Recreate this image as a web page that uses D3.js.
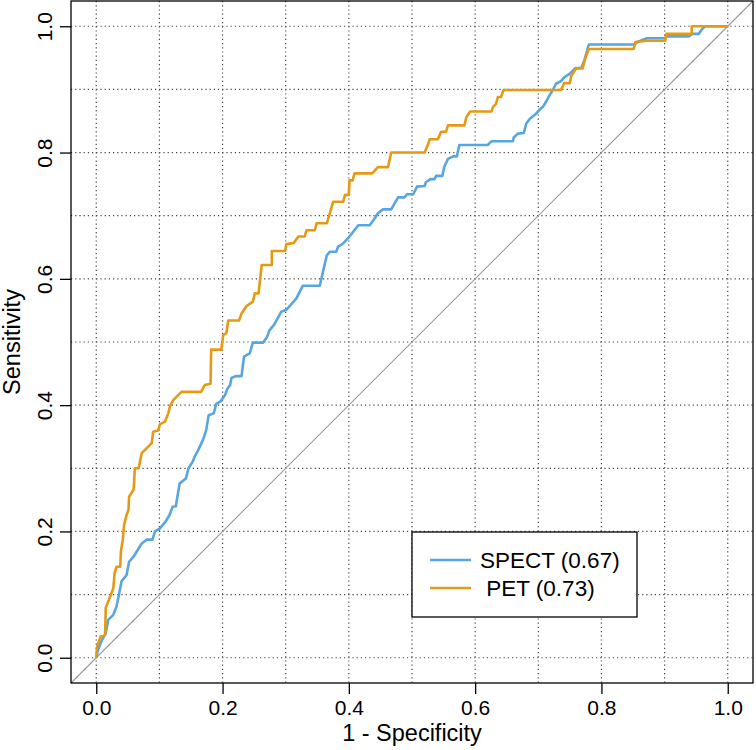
<!DOCTYPE html>
<html>
<head>
<meta charset="utf-8">
<script src="https://cdn.jsdelivr.net/npm/d3@7"></script>
<style>
  body { margin: 0; background: #fff; }
  text { font-family: "Liberation Sans", Arial, sans-serif; fill: #000; }
</style>
</head>
<body>
<svg class="chart"></svg>
<script>
// tick values and labels
let ticks = [0, 0.2, 0.4, 0.6, 0.8, 1.0]
let grid = [0, 0.1, 0.2, 0.3, 0.4, 0.5, 0.6, 0.7, 0.8, 0.9, 1.0]

let seriesNames = ['SPECT (0.67)', ' PET (0.73)']
let colorGroup = ['#58a6e0', '#e69a14']

// [1 - specificity, sensitivity]
let spect = [[0,0],[0.003,0.013],[0.009,0.028],[0.015,0.039],[0.019,0.060],[0.027,0.068],[0.032,0.081],[0.036,0.100],[0.040,0.121],[0.048,0.131],[0.052,0.152],[0.059,0.160],[0.072,0.181],[0.080,0.187],[0.089,0.187],[0.093,0.200],[0.101,0.205],[0.110,0.216],[0.116,0.226],[0.121,0.239],[0.126,0.240],[0.132,0.276],[0.142,0.284],[0.146,0.300],[0.153,0.311],[0.156,0.319],[0.161,0.328],[0.169,0.345],[0.174,0.360],[0.178,0.384],[0.186,0.387],[0.190,0.402],[0.197,0.406],[0.204,0.416],[0.207,0.425],[0.212,0.432],[0.214,0.443],[0.221,0.446],[0.230,0.446],[0.234,0.477],[0.243,0.482],[0.248,0.499],[0.264,0.499],[0.270,0.507],[0.274,0.518],[0.282,0.528],[0.293,0.548],[0.301,0.551],[0.317,0.569],[0.327,0.589],[0.354,0.589],[0.359,0.611],[0.365,0.637],[0.370,0.643],[0.380,0.643],[0.383,0.651],[0.391,0.656],[0.401,0.667],[0.415,0.685],[0.433,0.685],[0.441,0.696],[0.446,0.704],[0.454,0.710],[0.467,0.710],[0.478,0.729],[0.488,0.729],[0.492,0.734],[0.502,0.734],[0.508,0.746],[0.520,0.747],[0.522,0.753],[0.529,0.758],[0.536,0.758],[0.538,0.763],[0.548,0.763],[0.551,0.777],[0.557,0.790],[0.565,0.794],[0.571,0.794],[0.575,0.812],[0.620,0.812],[0.626,0.818],[0.660,0.818],[0.661,0.824],[0.668,0.830],[0.677,0.831],[0.681,0.846],[0.687,0.854],[0.696,0.861],[0.702,0.868],[0.707,0.872],[0.712,0.880],[0.718,0.891],[0.723,0.899],[0.728,0.909],[0.736,0.913],[0.741,0.919],[0.750,0.925],[0.759,0.934],[0.768,0.934],[0.773,0.946],[0.778,0.964],[0.780,0.971],[0.851,0.971],[0.857,0.975],[0.872,0.981],[0.901,0.981],[0.904,0.984],[0.938,0.984],[0.944,0.988],[0.954,0.988],[0.959,0.995],[0.964,1],[1,1]]

let pet = [[0,0],[0.001,0.016],[0.007,0.034],[0.014,0.036],[0.015,0.079],[0.022,0.097],[0.027,0.110],[0.029,0.134],[0.032,0.144],[0.038,0.144],[0.039,0.168],[0.042,0.187],[0.044,0.210],[0.048,0.226],[0.051,0.234],[0.052,0.255],[0.059,0.266],[0.060,0.279],[0.061,0.300],[0.067,0.300],[0.072,0.324],[0.080,0.332],[0.088,0.340],[0.090,0.358],[0.098,0.360],[0.101,0.370],[0.109,0.374],[0.114,0.387],[0.117,0.399],[0.122,0.408],[0.127,0.413],[0.135,0.421],[0.166,0.421],[0.172,0.432],[0.181,0.434],[0.182,0.488],[0.198,0.488],[0.201,0.511],[0.206,0.514],[0.209,0.534],[0.226,0.534],[0.230,0.545],[0.238,0.557],[0.248,0.564],[0.251,0.577],[0.257,0.577],[0.262,0.622],[0.278,0.622],[0.278,0.644],[0.299,0.644],[0.301,0.655],[0.313,0.657],[0.320,0.667],[0.330,0.667],[0.333,0.677],[0.346,0.677],[0.349,0.688],[0.365,0.688],[0.370,0.704],[0.375,0.722],[0.391,0.722],[0.394,0.733],[0.400,0.733],[0.401,0.756],[0.406,0.756],[0.409,0.767],[0.437,0.767],[0.446,0.777],[0.462,0.777],[0.467,0.800],[0.520,0.800],[0.525,0.812],[0.528,0.821],[0.541,0.821],[0.546,0.833],[0.554,0.833],[0.557,0.843],[0.583,0.843],[0.586,0.856],[0.592,0.865],[0.626,0.865],[0.628,0.872],[0.633,0.877],[0.636,0.888],[0.641,0.888],[0.645,0.899],[0.736,0.899],[0.741,0.910],[0.750,0.910],[0.752,0.921],[0.760,0.933],[0.770,0.933],[0.775,0.951],[0.780,0.964],[0.851,0.964],[0.854,0.975],[0.872,0.977],[0.901,0.977],[0.903,0.988],[0.943,0.988],[0.943,1],[1,1]]

let svg_width = 756
let svg_height = 750

// plot box (R style, 4% padding on each side)
let box_left = 71, box_right = 753, box_top = 1, box_bottom = 683

let svg = d3.select('.chart')
  .attr('width', svg_width)
  .attr('height', svg_height)

let scaleX = d3.scaleLinear().domain([-0.04, 1.04]).range([box_left, box_right])
let scaleY = d3.scaleLinear().domain([-0.04, 1.04]).range([box_bottom, box_top])

// dotted grid
svg.append('g').selectAll('line')
  .data(grid)
  .enter()
  .append('line')
  .attr('x1', d => scaleX(d)).attr('x2', d => scaleX(d))
  .attr('y1', box_top).attr('y2', box_bottom)
  .attr('stroke', '#444').attr('stroke-width', 1.2)
  .attr('stroke-dasharray', '1.2,3')

svg.append('g').selectAll('line')
  .data(grid)
  .enter()
  .append('line')
  .attr('y1', d => scaleY(d)).attr('y2', d => scaleY(d))
  .attr('x1', box_left).attr('x2', box_right)
  .attr('stroke', '#444').attr('stroke-width', 1.2)
  .attr('stroke-dasharray', '1.2,3')

// reference diagonal
svg.append('line')
  .attr('x1', scaleX(-0.04)).attr('y1', scaleY(-0.04))
  .attr('x2', scaleX(1.04)).attr('y2', scaleY(1.04))
  .attr('stroke', '#9a9a9a').attr('stroke-width', 1.1)

// curves
let line = d3.line()
  .x(d => scaleX(d[0]))
  .y(d => scaleY(d[1]))

;[spect, pet].forEach((s, i) => {
  svg.append('path')
    .datum(s)
    .attr('d', line)
    .attr('fill', 'none')
    .attr('stroke', colorGroup[i])
    .attr('stroke-width', 2.6)
    .attr('stroke-linejoin', 'round')
})

// box
svg.append('rect')
  .attr('x', box_left).attr('y', box_top)
  .attr('width', box_right - box_left).attr('height', box_bottom - box_top)
  .attr('fill', 'none').attr('stroke', '#000').attr('stroke-width', 1.3)

// axes
let axisX = d3.axisBottom(scaleX)
  .tickValues(ticks)
  .tickSize(11)
  .tickPadding(6)
  .tickFormat(d3.format('.1f'))

let axisY = d3.axisLeft(scaleY)
  .tickValues(ticks)
  .tickSize(11)
  .tickFormat(d3.format('.1f'))

svg.append('g')
  .attr('transform', translate(0, box_bottom))
  .call(axisX)
  .call(g => g.select('.domain').remove())
  .call(g => g.selectAll('.tick line').attr('stroke', '#000').attr('stroke-width', 1.3))
  .call(g => g.selectAll('.tick text')
    .attr('font-size', 21)
    .attr('font-family', '"Liberation Sans", Arial, sans-serif')
    .attr('fill', '#000'))

svg.append('g')
  .attr('transform', translate(box_left, 0))
  .call(axisY)
  .call(g => g.select('.domain').remove())
  .call(g => g.selectAll('.tick line').attr('stroke', '#000').attr('stroke-width', 1.3))
  .call(g => g.selectAll('.tick text')
    .attr('x', null).attr('dy', null)
    .attr('transform', 'translate(-19,0) rotate(-90)')
    .attr('text-anchor', 'middle')
    .attr('font-size', 21)
    .attr('font-family', '"Liberation Sans", Arial, sans-serif')
    .attr('fill', '#000'))

// axis titles
svg.append('text')
  .attr('x', (scaleX(0) + scaleX(1)) / 2)
  .attr('y', 741)
  .attr('text-anchor', 'middle')
  .attr('font-size', 23.5)
  .text('1 - Specificity')

svg.append('text')
  .attr('transform', translate(20, (box_top + box_bottom) / 2) + ' rotate(-90)')
  .attr('text-anchor', 'middle')
  .attr('font-size', 23.5)
  .text('Sensitivity')

// legend
let legend = svg.append('g')
legend.append('rect')
  .attr('x', 412).attr('y', 532)
  .attr('width', 225).attr('height', 85)
  .attr('fill', '#fff').attr('stroke', '#000').attr('stroke-width', 1.3)

seriesNames.forEach((name, i) => {
  let y = 560 + i * 28
  legend.append('line')
    .attr('x1', 430).attr('x2', 471)
    .attr('y1', y).attr('y2', y)
    .attr('stroke', colorGroup[i]).attr('stroke-width', 2.6)
  legend.append('text')
    .attr('x', 480).attr('y', y + 8)
    .attr('font-size', 22.5)
    .attr('xml:space', 'preserve')
    .style('white-space', 'pre')
    .text(name)
})

function translate(x, y) {
  return 'translate(' + x + ',' + y + ')';
}
</script>
</body>
</html>
